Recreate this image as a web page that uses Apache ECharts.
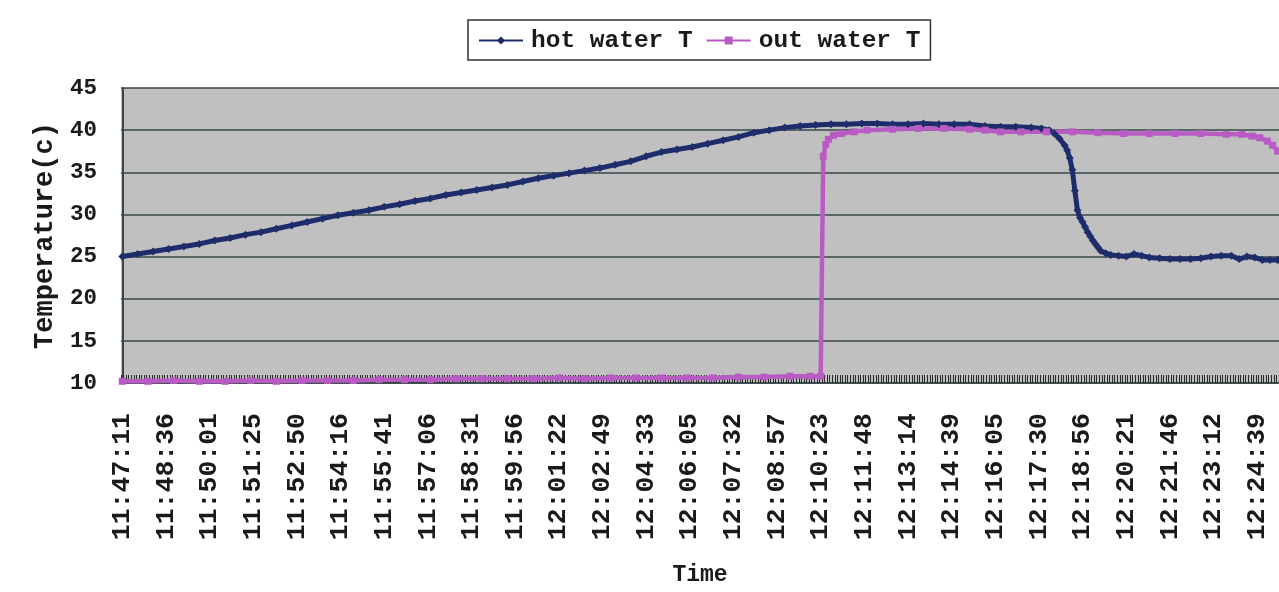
<!DOCTYPE html>
<html>
<head>
<meta charset="utf-8">
<script src="https://cdn.jsdelivr.net/npm/echarts@6/dist/echarts.min.js"></script>
<style>
html, body { margin: 0; padding: 0; background: #fff; }
#chart { width: 1279px; height: 592px; }
</style>
</head>
<body>
<div id="chart"></div>
<script>
// tick labels, one every 17 samples
const timeLabels = [
	'11:47:11', '11:48:36', '11:50:01', '11:51:25', '11:52:50', '11:54:16',
	'11:55:41', '11:57:06', '11:58:31', '11:59:56', '12:01:22', '12:02:49',
	'12:04:33', '12:06:05', '12:07:32', '12:08:57', '12:10:23', '12:11:48',
	'12:13:14', '12:14:39', '12:16:05', '12:17:30', '12:18:56', '12:20:21',
	'12:21:46', '12:23:12', '12:24:39',
]
const labelStep = 17
const sampleCount = 451

// hot water: sample index / temperature
const hotIdx = [
	0, 6, 12, 18, 24, 30, 36, 42, 48, 54, 60, 66, 72, 78, 84, 90, 96, 102,
	108, 114, 120, 126, 132, 138, 144, 150, 156, 162, 168, 174, 180, 186, 192,
	198, 204, 210, 216, 222, 228, 234, 240, 246, 252, 258, 264, 270, 276, 282,
	288, 294, 300, 306, 312, 318, 324, 330, 336, 342, 348, 354, 358, 361, 363,
	365, 367, 368, 369, 370, 371, 372, 373, 374, 375, 376, 377, 378, 379, 380,
	381, 383, 385, 388, 391, 394, 397, 400, 404, 408, 412, 416, 420, 424, 428,
	432, 435, 438, 441, 444, 447, 450,
]
const hotTemp = [
	25.0, 25.3, 25.6, 25.9, 26.2, 26.5, 26.9, 27.2, 27.6, 27.9, 28.3, 28.7,
	29.1, 29.5, 29.9, 30.2, 30.5, 30.9, 31.2, 31.6, 31.9, 32.3, 32.6, 32.9,
	33.2, 33.5, 33.9, 34.3, 34.6, 34.9, 35.2, 35.5, 35.9, 36.3, 36.9, 37.4,
	37.7, 38.0, 38.4, 38.8, 39.2, 39.7, 40.0, 40.3, 40.5, 40.6, 40.7, 40.7,
	40.8, 40.8, 40.7, 40.7, 40.8, 40.7, 40.7, 40.7, 40.5, 40.4, 40.4, 40.3,
	40.2, 40.0, 39.6, 39.0, 38.2, 37.6, 36.7, 35.3, 32.8, 30.5, 29.6, 29.1,
	28.5, 27.9, 27.4, 26.9, 26.5, 26.1, 25.7, 25.4, 25.2, 25.1, 25.0, 25.3,
	25.1, 24.9, 24.8, 24.7, 24.7, 24.7, 24.8, 25.0, 25.1, 25.1, 24.7, 25.0,
	24.9, 24.6, 24.6, 24.6,
]

// out water: sample index / temperature
const outIdx = [
	0, 10, 20, 30, 40, 50, 60, 70, 80, 90, 100, 110, 120, 130, 140, 150, 160,
	170, 180, 190, 200, 210, 220, 230, 240, 250, 260, 268, 272, 273, 274, 275,
	277, 280, 285, 290, 300, 310, 320, 330, 336, 342, 350, 360, 370, 380, 390,
	400, 410, 420, 430, 436, 440, 443, 446, 448, 450,
]
const outTemp = [
	10.2, 10.2, 10.3, 10.2, 10.2, 10.3, 10.2, 10.3, 10.3, 10.3, 10.4, 10.4,
	10.4, 10.5, 10.5, 10.5, 10.5, 10.6, 10.5, 10.6, 10.6, 10.6, 10.6, 10.6,
	10.7, 10.7, 10.8, 10.8, 10.8, 36.9, 38.3, 38.9, 39.4, 39.6, 39.8, 40.0,
	40.1, 40.2, 40.2, 40.1, 40.0, 39.8, 39.8, 39.8, 39.8, 39.7, 39.6, 39.6,
	39.6, 39.6, 39.5, 39.5, 39.3, 39.1, 38.7, 38.2, 37.5,
]

const labelIdx = timeLabels.map((t, i) => i * labelStep)
const hotData = hotIdx.map((x, i) => [x, hotTemp[i]])
const outData = outIdx.map((x, i) => [x, outTemp[i]])

const font = 'Liberation Mono'
const darkLine = '#37474a'

const chart = echarts.init(document.getElementById('chart'))
chart.setOption({
	animation: false,
	backgroundColor: '#fff',
	legend: {
		left: 468,
		top: 20,
		padding: [8, 10, 7, 10],
		itemGap: 13,
		itemWidth: 44,
		itemHeight: 10,
		borderColor: '#333',
		borderWidth: 1.5,
		lineStyle: { width: 2 },
		textStyle: {
			fontFamily: font,
			fontSize: 24.5,
			fontWeight: 'bold',
			color: '#1a1a1a',
			padding: [0, 0, 0, 3],
		},
	},
	grid: {
		left: 121,
		right: 0,
		top: 88,
		bottom: 206,
		show: true,
		backgroundColor: '#c0c0c0',
		borderWidth: 0,
	},
	xAxis: [
		{
			type: 'value',
			min: -0.5,
			max: sampleCount - 0.5,
			name: 'Time',
			nameLocation: 'middle',
			nameGap: 181,
			nameTextStyle: {
				fontFamily: font,
				fontSize: 23,
				fontWeight: 'bold',
				color: '#1a1a1a',
			},
			axisLine: { show: true, lineStyle: { color: darkLine, width: 1.5 } },
			axisTick: { show: false },
			splitLine: { show: false },
			axisLabel: {
				customValues: labelIdx,
				formatter: v => timeLabels[Math.round(v / labelStep)],
				rotate: 90,
				margin: 30,
				fontFamily: font,
				fontSize: 26.5,
				fontWeight: 'bold',
				color: '#1a1a1a',
			},
		},
		{
			// one tick per sample, drawn inside the plot
			type: 'value',
			min: -0.5,
			max: sampleCount - 0.5,
			interval: 1,
			position: 'bottom',
			axisLine: { show: false },
			axisTick: {
				show: true,
				inside: true,
				length: 8,
				lineStyle: { color: '#2a2a2a', width: 1 },
			},
			axisLabel: { show: false },
			splitLine: { show: false },
		},
	],
	yAxis: {
		type: 'value',
		min: 10,
		max: 45,
		interval: 5,
		name: 'Temperature(c)',
		nameLocation: 'middle',
		nameGap: 62,
		nameTextStyle: {
			fontFamily: font,
			fontSize: 27,
			fontWeight: 'bold',
			color: '#1a1a1a',
		},
		axisLine: { show: true, lineStyle: { color: darkLine, width: 2 } },
		axisTick: { show: false },
		axisLabel: {
			margin: 24,
			fontFamily: font,
			fontSize: 22.5,
			fontWeight: 'bold',
			color: '#1a1a1a',
		},
		splitLine: { lineStyle: { color: darkLine, width: 1.5 } },
	},
	series: [
		{
			name: 'hot water T',
			type: 'line',
			data: hotData,
			symbol: 'diamond',
			symbolSize: 8,
			lineStyle: { color: '#1f2c6c', width: 5 },
			itemStyle: { color: '#1f2c6c' },
		},
		{
			name: 'out water T',
			type: 'line',
			data: outData,
			symbol: 'rect',
			symbolSize: 7,
			lineStyle: { color: '#b85cc4', width: 4.5 },
			itemStyle: { color: '#b85cc4' },
		},
	],
})
</script>
</body>
</html>
